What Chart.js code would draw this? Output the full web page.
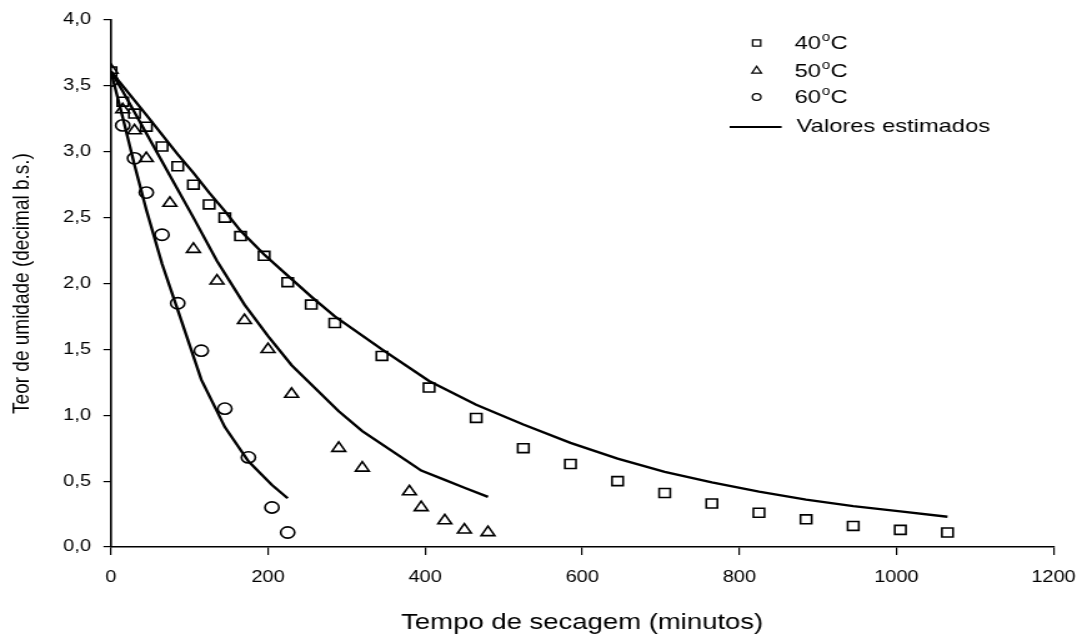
<!DOCTYPE html>
<html lang="pt">
<head>
<meta charset="UTF-8">
<title>Curvas de secagem</title>
<script src="https://cdn.jsdelivr.net/npm/chart.js"></script>
<style>
  html, body { margin: 0; padding: 0; background: #fff; overflow: hidden; }
  /* the plot is drawn narrow and stretched sideways */
  #wrap { width: 874px; height: 638px; transform: scaleX(1.2494); transform-origin: 0 0; }
  canvas { display: block; }
</style>
</head>
<body>
<div id="wrap"><canvas id="chart" width="874" height="638" style="width:874px;height:638px"></canvas></div>
<script>
// drying times (min) and moisture content (decimal b.s.)
const t40 = [0, 15, 30, 45, 65, 85, 105, 125, 145, 165, 195, 225, 255, 285, 345, 405, 465, 525, 585, 645, 705, 765, 825, 885, 945, 1005, 1065];
const obs40 = [3.61, 3.38, 3.29, 3.19, 3.04, 2.89, 2.75, 2.60, 2.50, 2.36, 2.21, 2.01, 1.84, 1.70, 1.45, 1.21, 0.98, 0.75, 0.63, 0.50, 0.41, 0.33, 0.26, 0.21, 0.16, 0.13, 0.11];
const est40 = [3.61, 3.50, 3.39, 3.28, 3.13, 2.98, 2.84, 2.69, 2.55, 2.40, 2.22, 2.06, 1.90, 1.75, 1.50, 1.26, 1.08, 0.93, 0.79, 0.67, 0.57, 0.49, 0.42, 0.36, 0.31, 0.27, 0.23];

const t50 = [0, 15, 30, 45, 75, 105, 135, 170, 200, 230, 290, 320, 380, 395, 425, 450, 480];
const obs50 = [3.62, 3.32, 3.16, 2.95, 2.61, 2.26, 2.02, 1.72, 1.50, 1.16, 0.75, 0.60, 0.42, 0.30, 0.20, 0.13, 0.11];
const est50 = [3.61, 3.46, 3.30, 3.14, 2.82, 2.50, 2.17, 1.84, 1.60, 1.38, 1.03, 0.88, 0.64, 0.58, 0.51, 0.45, 0.38];

const t60 = [0, 15, 30, 45, 65, 85, 115, 145, 175, 205, 225];
const obs60 = [3.54, 3.20, 2.95, 2.69, 2.37, 1.85, 1.49, 1.05, 0.68, 0.30, 0.11];
const est60 = [3.61, 3.26, 2.90, 2.56, 2.15, 1.80, 1.27, 0.91, 0.65, 0.47, 0.37];

const xTicks = [0, 200, 400, 600, 800, 1000, 1200];
const yTicks = [0, 0.5, 1, 1.5, 2, 2.5, 3, 3.5, 4];
const yTickLabels = ['0,0', '0,5', '1,0', '1,5', '2,0', '2,5', '3,0', '3,5', '4,0'];

const temps = ['40', '50', '60'];
const markers = ['rect', 'triangle', 'circle'];
const fitLabel = 'Valores estimados';

const FONT = '"Liberation Sans", Arial, sans-serif';

function pts(xs, ys) {
    return xs.map((x, i) => ({ x: x, y: ys[i] }));
}

function obsSet(xs, ys, style) {
    return {
        data: pts(xs, ys),
        showLine: false,
        pointStyle: style,
        pointRadius: style === 'circle' ? 5.6 : 6.3,
        pointBorderWidth: 1.6,
        pointBorderColor: '#000',
        pointBackgroundColor: 'rgba(0,0,0,0)'
    };
}

function fitSet(xs, ys) {
    return {
        data: pts(xs, ys),
        showLine: true,
        borderColor: '#000',
        borderWidth: 2.4,
        tension: 0,
        pointRadius: 0
    };
}

// legend box drawn by hand, with the small raised "o" in the temperatures
const legendPlugin = {
    id: 'dryLegend',
    afterDraw(chart) {
        const ctx = chart.ctx;
        const mx = 605.6, tx = 636;
        const rows = [49, 76.5, 103];
        ctx.save();
        ctx.fillStyle = '#000';
        ctx.strokeStyle = '#000';
        ctx.lineWidth = 1.3;
        ctx.textBaseline = 'alphabetic';
        temps.forEach((t, i) => {
            const by = rows[i];
            const cy = by - 6;
            ctx.beginPath();
            if (markers[i] === 'rect') {
                ctx.rect(mx - 3.2, cy - 3.2, 6.4, 6.4);
            } else if (markers[i] === 'triangle') {
                ctx.moveTo(mx, cy - 4.2);
                ctx.lineTo(mx + 3.8, cy + 2.6);
                ctx.lineTo(mx - 3.8, cy + 2.6);
                ctx.closePath();
            } else {
                ctx.arc(mx, cy, 3.4, 0, Math.PI * 2);
            }
            ctx.stroke();

            ctx.font = '19px ' + FONT;
            ctx.fillText(t, tx, by);
            let w = ctx.measureText(t).width + 0.5;
            ctx.font = '12px ' + FONT;
            ctx.fillText('o', tx + w, by - 8);
            w += ctx.measureText('o').width + 0.5;
            ctx.font = '19px ' + FONT;
            ctx.fillText('C', tx + w, by);
        });
        ctx.lineWidth = 2.2;
        ctx.beginPath();
        ctx.moveTo(584, 127);
        ctx.lineTo(625.6, 127);
        ctx.stroke();
        ctx.font = '19px ' + FONT;
        ctx.fillText(fitLabel, 637.6, 132);
        ctx.restore();
    }
};

const ctx = document.getElementById('chart').getContext('2d');
new Chart(ctx, {
    type: 'scatter',
    data: {
        datasets: [
            fitSet(t40, est40),
            fitSet(t50, est50),
            fitSet(t60, est60),
            obsSet(t40, obs40, markers[0]),
            obsSet(t50, obs50, markers[1]),
            obsSet(t60, obs60, markers[2])
        ]
    },
    options: {
        responsive: false,
        animation: false,
        layout: { padding: { top: 20, right: 28.4, bottom: 0, left: 0 } },
        plugins: {
            legend: { display: false },
            tooltip: { enabled: false }
        },
        scales: {
            x: {
                type: 'linear',
                min: 0,
                max: 1200,
                afterFit(scale) { scale.height = 91; },
                afterBuildTicks(scale) { scale.ticks = xTicks.map(v => ({ value: v })); },
                border: { display: true, color: '#000', width: 1.6 },
                grid: { drawOnChartArea: false, drawTicks: true, tickLength: 8, color: '#000', lineWidth: 1.2 },
                ticks: {
                    color: '#000',
                    padding: 13,
                    maxRotation: 0,
                    font: { family: FONT, size: 16 },
                    callback: (v) => String(v)
                },
                title: {
                    display: true,
                    text: 'Tempo de secagem (minutos)',
                    color: '#000',
                    font: { family: FONT, size: 22 },
                    padding: { top: 0, bottom: 2 }
                }
            },
            y: {
                type: 'linear',
                min: 0,
                max: 4,
                afterFit(scale) { scale.width = 88.8; },
                afterBuildTicks(scale) { scale.ticks = yTicks.map(v => ({ value: v })); },
                border: { display: true, color: '#000', width: 1.6 },
                grid: { drawOnChartArea: false, drawTicks: true, tickLength: 6, color: '#000', lineWidth: 1.2 },
                ticks: {
                    color: '#000',
                    padding: 10,
                    font: { family: FONT, size: 16 },
                    callback: (v, i) => yTickLabels[i]
                },
                title: {
                    display: true,
                    text: 'Teor de umidade (decimal b.s.)',
                    color: '#000',
                    font: { family: FONT, size: 19 },
                    padding: { top: 6, bottom: 0 }
                }
            }
        }
    },
    plugins: [legendPlugin]
});
</script>
</body>
</html>
